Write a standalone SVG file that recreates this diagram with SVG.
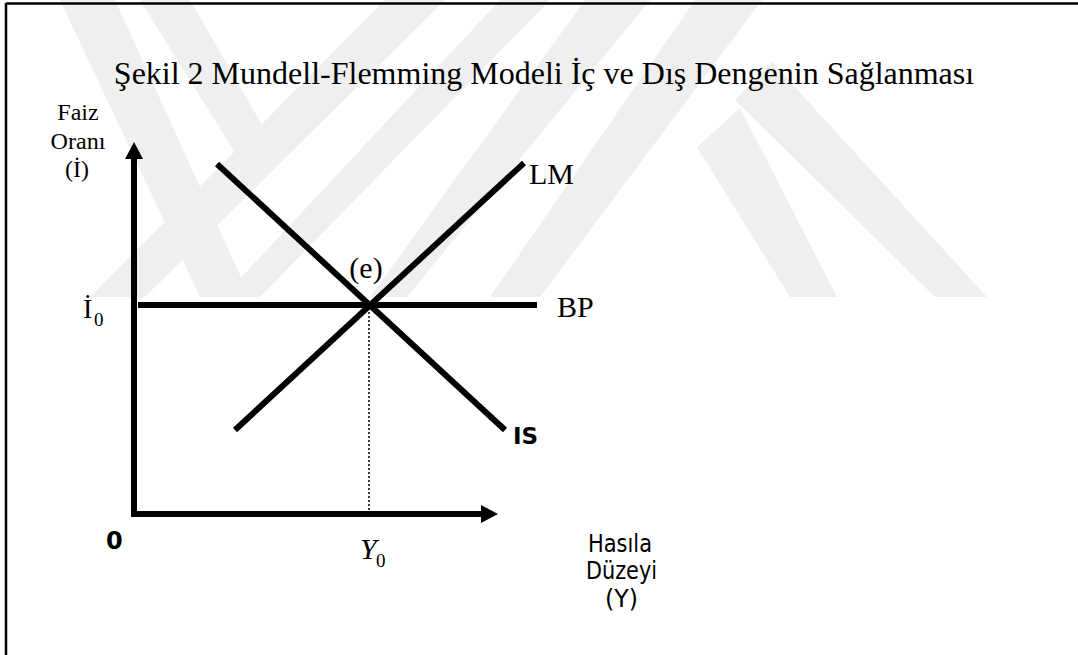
<svg xmlns="http://www.w3.org/2000/svg" width="1078" height="655" viewBox="0 0 1078 655">
  <style>
    .wm { fill: #efefef; }
    .frame { stroke: #000; stroke-width: 2.5; fill: none; }
    .axis { stroke: #000; stroke-width: 6; fill: none; }
    .curve { stroke: #000; stroke-width: 6; fill: none; stroke-linecap: butt; }
    .guide { stroke: #000; stroke-width: 1.5; stroke-dasharray: 2 2; fill: none; }
    .serif { font-family: "Liberation Serif", "Times New Roman", serif; fill: #000; }
    .sans { font-family: "DejaVu Sans", Verdana, sans-serif; fill: #000; }
  </style>
  <rect width="1078" height="655" fill="#fff"/>
  <g id="watermark">
    <polygon class="wm" points="60,0 115,0 250,297 200,297"/>
    <polygon class="wm" points="500,0 550,0 260,297 223,297"/>
    <polygon class="wm" points="140,0 190,0 262,125 236,154"/>
    <polygon class="wm" points="385,0 445,0 145,297 90,297"/>
    <polygon class="wm" points="585,0 650,0 407,297 370,297"/>
    <polygon class="wm" points="695,0 762,0 540,297 490,297"/>
    <polygon class="wm" points="697,147 740,108 837,297 790,297"/>
    <polygon class="wm" points="735,100 772,62 987,297 935,297"/>
  </g>
  <g id="frame">
    <line class="frame" x1="6" y1="3.5" x2="1078" y2="3.5"/>
    <line class="frame" x1="6" y1="3" x2="6" y2="655"/>
  </g>
  <g id="title">
    <text class="serif" x="544" y="84" font-size="32" text-anchor="middle">Şekil 2 Mundell-Flemming Modeli İç ve Dış Dengenin Sağlanması</text>
  </g>
  <g id="connectors">
    <line id="y-axis" class="axis" x1="134" y1="517" x2="134" y2="158"/>
    <polygon points="134,142 125,159 143,159" fill="#000"/>
    <line id="x-axis" class="axis" x1="131" y1="514" x2="482" y2="514"/>
    <polygon points="498,514 481,505 481,523" fill="#000"/>
    <line id="bp" class="curve" x1="138" y1="305" x2="537" y2="305"/>
    <line id="lm" class="curve" x1="235" y1="430" x2="524" y2="163"/>
    <line id="is" class="curve" x1="217" y1="164" x2="505" y2="430"/>
    <line id="y0-guide" class="guide" x1="369" y1="308" x2="369" y2="511"/>
  </g>
  <g id="label-y-axis">
    <text class="serif" x="78" y="120" font-size="24" text-anchor="middle">Faiz</text>
    <text class="serif" x="78" y="149" font-size="24" text-anchor="middle" textLength="55" lengthAdjust="spacingAndGlyphs">Oranı</text>
    <text class="serif" x="77" y="177" font-size="24" text-anchor="middle">(İ)</text>
  </g>
  <g id="label-i0">
    <text class="serif" x="83" y="318" font-size="28">İ</text>
    <text class="serif" x="94" y="326" font-size="19">0</text>
  </g>
  <g id="label-e">
    <text class="serif" x="366" y="278" font-size="30" text-anchor="middle">(e)</text>
  </g>
  <g id="label-lm">
    <text class="serif" x="529" y="184" font-size="30">LM</text>
  </g>
  <g id="label-bp">
    <text class="serif" x="557" y="317" font-size="30">BP</text>
  </g>
  <g id="label-is">
    <text class="sans" x="513" y="444" font-size="23" font-weight="bold">IS</text>
  </g>
  <g id="label-origin">
    <text class="sans" x="106" y="549" font-size="24" font-weight="bold">0</text>
  </g>
  <g id="label-y0">
    <text class="serif" x="360" y="559" font-size="30" font-style="italic">Y</text>
    <text class="serif" x="376" y="567" font-size="19">0</text>
  </g>
  <g id="label-x-axis">
    <text class="sans" x="588" y="552" font-size="24" textLength="64" lengthAdjust="spacingAndGlyphs">Hasıla</text>
    <text class="sans" x="586" y="579" font-size="24" textLength="71" lengthAdjust="spacingAndGlyphs">Düzeyi</text>
    <text class="sans" x="605" y="607" font-size="24" textLength="33" lengthAdjust="spacingAndGlyphs">(Y)</text>
  </g>
</svg>
